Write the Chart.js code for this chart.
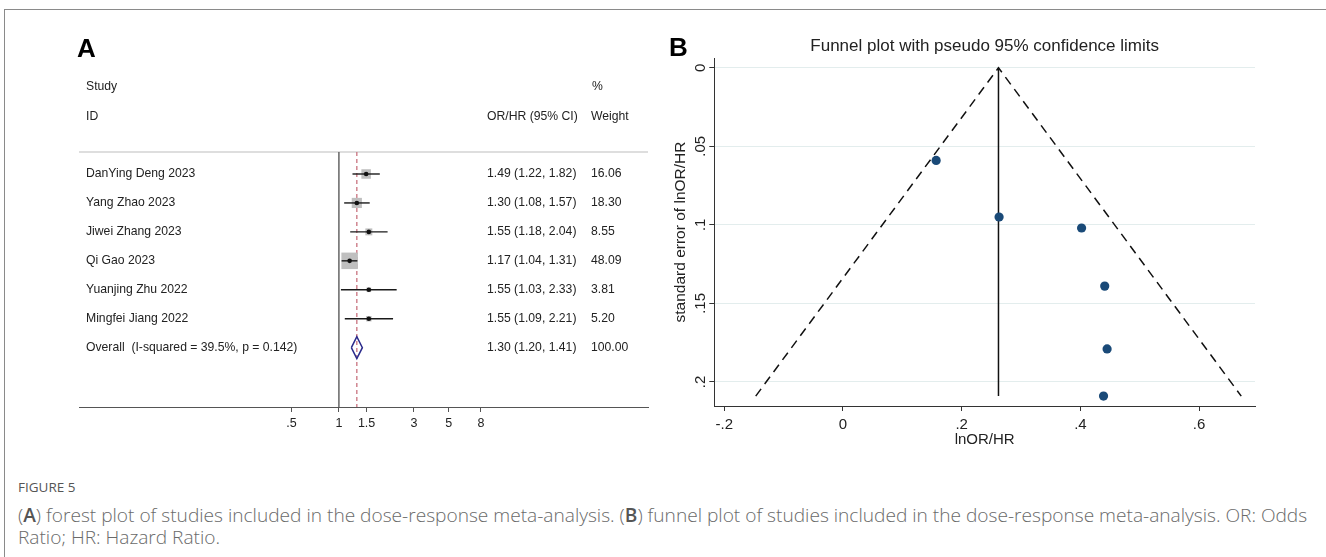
<!DOCTYPE html>
<html>
<head>
<meta charset="utf-8">
<script src="https://cdn.jsdelivr.net/npm/chart.js@4.4.1/dist/chart.umd.min.js"></script>
<style>
html,body{margin:0;padding:0;background:#fff;}
body{width:1326px;height:557px;position:relative;overflow:hidden;font-family:"Liberation Sans",Arial,sans-serif;}
#frameTop{position:absolute;left:4px;top:9px;width:1322px;height:0;border-top:1px solid #8a8a8a;}
#frameLeft{position:absolute;left:4px;top:9px;width:0;height:548px;border-left:1px solid #8a8a8a;}
#cA{position:absolute;left:0;top:0;}
#cB{position:absolute;left:660px;top:0;}
.cap{position:absolute;left:18px;white-space:nowrap;font-family:"Open Sans",sans-serif;color:#6a6a6a;line-height:1;font-weight:300;}
#figLabel{font-size:13.5px;top:481px;color:#555;font-weight:400;}
#capL1{top:506px;font-size:16px;}
#capL2{top:528px;font-size:16px;}
.cap b{font-weight:600;color:#555;}
</style>
</head>
<body>
<div id="frameTop"></div>
<div id="frameLeft"></div>
<canvas id="cA" width="660" height="450"></canvas>
<canvas id="cB" width="666" height="460"></canvas>
<div class="cap" id="figLabel">FIGURE 5</div>
<div class="cap" id="capL1">(<b>A</b>) forest plot of studies included in the dose-response meta-analysis. (<b>B</b>) funnel plot of studies included in the dose-response meta-analysis. OR: Odds</div>
<div class="cap" id="capL2">Ratio; HR: Hazard Ratio.</div>
<script>
// ---------- Panel A data (forest plot) ----------
const studies = ["DanYing Deng 2023","Yang Zhao 2023","Jiwei Zhang 2023","Qi Gao 2023","Yuanjing Zhu 2022","Mingfei Jiang 2022"];
const effectOR = [1.49,1.30,1.55,1.17,1.55,1.55];
const ciLower = [1.22,1.08,1.18,1.04,1.03,1.09];
const ciUpper = [1.82,1.57,2.04,1.31,2.33,2.21];
const weights = [16.06,18.30,8.55,48.09,3.81,5.20];
const overallLabel = "Overall  (I-squared = 39.5%, p = 0.142)";
const overallOR = 1.30;
const overallLower = 1.20;
const overallUpper = 1.41;
const overallWeight = 100.00;
const forestTicks = [0.5,1,1.5,3,5,8];
const forestTickLabels = [".5","1","1.5","3","5","8"];

// ---------- Panel B data (funnel plot) ----------
const lnEffect = [0.157,0.263,0.402,0.441,0.445,0.439];
const stdErr = [0.059,0.095,0.102,0.139,0.179,0.209];
const pooledLn = 0.262;
const funnelTopSE = 0;
const funnelBaseSE = 0.209;
const funnelLowerX = -0.147;
const funnelUpperX = 0.671;
const funnelXTicks = [-0.2,0,0.2,0.4,0.6];
const funnelXTickLabels = ["-.2","0",".2",".4",".6"];
const funnelYTicks = [0,0.05,0.1,0.15,0.2];
const funnelYTickLabels = ["0",".05",".1",".15",".2"];

const FONT = '"Liberation Sans", Arial, Helvetica, sans-serif';
const TXT = '#222';

// ---------- Panel A ----------
const rows = studies.map((s,i)=>i+1);
const overallRow = studies.length + 1;
const yMinA = 0.24, yMaxA = 9.05;
const diamondHalf = 0.38;
const boxScale = 1.683;

const ciSets = studies.map((s,i)=>({
  type:'scatter', showLine:true, pointRadius:0, borderColor:'#1a1a1a', borderWidth:1.4,
  data:[{x:ciLower[i],y:rows[i]},{x:ciUpper[i],y:rows[i]}]
}));

const forestText = {
  id:'forestText',
  beforeDatasetsDraw(chart){
    const {ctx, chartArea} = chart;
    ctx.save();
    ctx.strokeStyle = '#dedede'; ctx.lineWidth = 2;
    ctx.beginPath(); ctx.moveTo(chartArea.left, chartArea.top); ctx.lineTo(chartArea.right, chartArea.top); ctx.stroke();
    ctx.restore();
  },
  afterDraw(chart){
    const {ctx, scales:{y}} = chart;
    ctx.save();
    ctx.fillStyle = '#000';
    ctx.font = 'bold 26px ' + FONT;
    ctx.textBaseline = 'alphabetic';
    ctx.fillText('A', 77, 57);
    ctx.font = '12.2px ' + FONT;
    ctx.fillStyle = TXT;
    ctx.textBaseline = 'middle';
    ctx.fillText('Study', 86, 87);
    ctx.fillText('ID', 86, 117);
    ctx.fillText('%', 592, 87);
    ctx.fillText('OR/HR (95% CI)', 487, 117);
    ctx.fillText('Weight', 591, 117);
    studies.forEach((s,i)=>{
      const py = y.getPixelForValue(rows[i]);
      ctx.fillText(s, 86, py);
      ctx.fillText(effectOR[i].toFixed(2)+' ('+ciLower[i].toFixed(2)+', '+ciUpper[i].toFixed(2)+')', 487, py);
      ctx.fillText(weights[i].toFixed(2), 591, py);
    });
    const po = y.getPixelForValue(overallRow);
    ctx.fillText(overallLabel, 86, po);
    ctx.fillText(overallOR.toFixed(2)+' ('+overallLower.toFixed(2)+', '+overallUpper.toFixed(2)+')', 487, po);
    ctx.fillText(overallWeight.toFixed(2), 591, po);
    ctx.restore();
  }
};

new Chart(document.getElementById('cA'), {
  type:'scatter',
  data:{ datasets:[
    {type:'scatter', data: rows.map((r,i)=>({x:effectOR[i], y:r})), pointStyle:'circle', pointRadius:2.3, backgroundColor:'#111', borderWidth:0},
    ...ciSets,
    {type:'scatter', showLine:true, pointRadius:0, borderColor:'#2b2b8c', borderWidth:1.5, tension:0,
      data:[{x:overallLower,y:overallRow},{x:overallOR,y:overallRow-diamondHalf},{x:overallUpper,y:overallRow},{x:overallOR,y:overallRow+diamondHalf},{x:overallLower,y:overallRow}]},
    {type:'scatter', data: rows.map((r,i)=>({x:effectOR[i], y:r})), pointStyle:'rect',
      pointRadius: c => boxScale*Math.sqrt(weights[c.dataIndex]), backgroundColor:'#bfbfbf', borderWidth:0},
    {type:'scatter', showLine:true, pointRadius:0, borderColor:'#c9737f', borderWidth:1.3, borderDash:[4,3],
      data:[{x:overallOR,y:yMinA},{x:overallOR,y:yMaxA}]},
    {type:'scatter', showLine:true, pointRadius:0, borderColor:'#666', borderWidth:1.5,
      data:[{x:1,y:yMinA},{x:1,y:yMaxA}]}
  ]},
  options:{
    responsive:false, animation:false, events:[],
    layout:{padding:{left:79,right:12,top:152,bottom:13}},
    plugins:{legend:{display:false}, tooltip:{enabled:false}},
    scales:{
      x:{type:'logarithmic', min:0.02224, max:92.4,
        afterBuildTicks: s => { s.ticks = forestTicks.map(v=>({value:v})); },
        afterFit: s => { s.height = 30; },
        ticks:{callback:(v,i)=>forestTickLabels[i], font:{size:12.5, family:FONT}, color:TXT, padding:4, autoSkip:false, maxRotation:0, minRotation:0},
        grid:{drawOnChartArea:false, drawTicks:true, tickLength:5, color:'#555', tickColor:'#555'},
        border:{display:true, color:'#555', width:1}},
      y:{type:'linear', display:false, reverse:true, min:yMinA, max:yMaxA}
    }
  },
  plugins:[forestText]
});

// ---------- Panel B ----------
const funnelText = {
  id:'funnelText',
  afterDraw(chart){
    const {ctx, chartArea, scales:{y}} = chart;
    ctx.save();
    ctx.fillStyle = '#000';
    ctx.font = 'bold 26px ' + FONT;
    ctx.textBaseline = 'alphabetic';
    ctx.textAlign = 'left';
    ctx.fillText('B', 9, 56);
    ctx.fillStyle = TXT;
    ctx.font = '17px ' + FONT;
    ctx.textAlign = 'center';
    ctx.textBaseline = 'middle';
    ctx.fillText('Funnel plot with pseudo 95% confidence limits', (chartArea.left+chartArea.right)/2, 46);
    ctx.font = '15px ' + FONT;
    funnelYTicks.forEach((v,i)=>{
      const py = y.getPixelForValue(v);
      ctx.save();
      ctx.translate(chartArea.left - 13, py);
      ctx.rotate(-Math.PI/2);
      ctx.fillText(funnelYTickLabels[i], 0, 0);
      ctx.restore();
    });
    ctx.restore();
  }
};

new Chart(document.getElementById('cB'), {
  type:'scatter',
  data:{ datasets:[
    {type:'scatter', data: lnEffect.map((x,i)=>({x:x, y:stdErr[i]})), pointRadius:4.6, backgroundColor:'#1a4a78', borderWidth:0},
    {type:'scatter', showLine:true, pointRadius:0, borderColor:'#111', borderWidth:1.5,
      data:[{x:pooledLn,y:funnelTopSE},{x:pooledLn,y:funnelBaseSE}]},
    {type:'scatter', showLine:true, pointRadius:0, borderColor:'#111', borderWidth:1.5, borderDash:[9,6],
      data:[{x:funnelLowerX,y:funnelBaseSE},{x:pooledLn,y:funnelTopSE},{x:funnelUpperX,y:funnelBaseSE}]}
  ]},
  options:{
    responsive:false, animation:false, events:[],
    layout:{padding:{left:0,right:71,top:58,bottom:10}},
    plugins:{legend:{display:false}, tooltip:{enabled:false}},
    scales:{
      x:{type:'linear', min:-0.2168, max:0.6942,
        afterBuildTicks: s => { s.ticks = funnelXTicks.map(v=>({value:v})); },
        afterFit: s => { s.height = 44; },
        ticks:{callback:(v,i)=>funnelXTickLabels[i], font:{size:15, family:FONT}, color:TXT, padding:5, autoSkip:false, maxRotation:0, minRotation:0},
        grid:{drawOnChartArea:false, drawTicks:true, tickLength:5, color:'#333', tickColor:'#333'},
        border:{display:true, color:'#333', width:1},
        title:{display:true, text:'lnOR/HR', font:{size:15, family:FONT}, color:TXT, padding:{top:0,bottom:1}}},
      y:{type:'linear', reverse:true, min:-0.0062, max:0.2153,
        afterBuildTicks: s => { s.ticks = funnelYTicks.map(v=>({value:v})); },
        afterFit: s => { s.width = 54.3; },
        ticks:{display:false},
        grid:{drawOnChartArea:true, drawTicks:true, tickLength:5, color:'#e3eded', tickColor:'#333', lineWidth:1},
        border:{display:true, color:'#333', width:1},
        title:{display:true, text:'standard error of lnOR/HR', font:{size:15.5, family:FONT}, color:TXT, padding:{top:11,bottom:0}}}
    }
  },
  plugins:[funnelText]
});

// fit caption line 1 to its measured width in the reference
(function(){
  const l1 = document.getElementById('capL1');
  const w = l1.getBoundingClientRect().width;
  const target = 1290;
  const fs = 16 * target / w;
  l1.style.fontSize = fs.toFixed(2) + 'px';
  document.getElementById('capL2').style.fontSize = fs.toFixed(2) + 'px';
})();
</script>
</body>
</html>
